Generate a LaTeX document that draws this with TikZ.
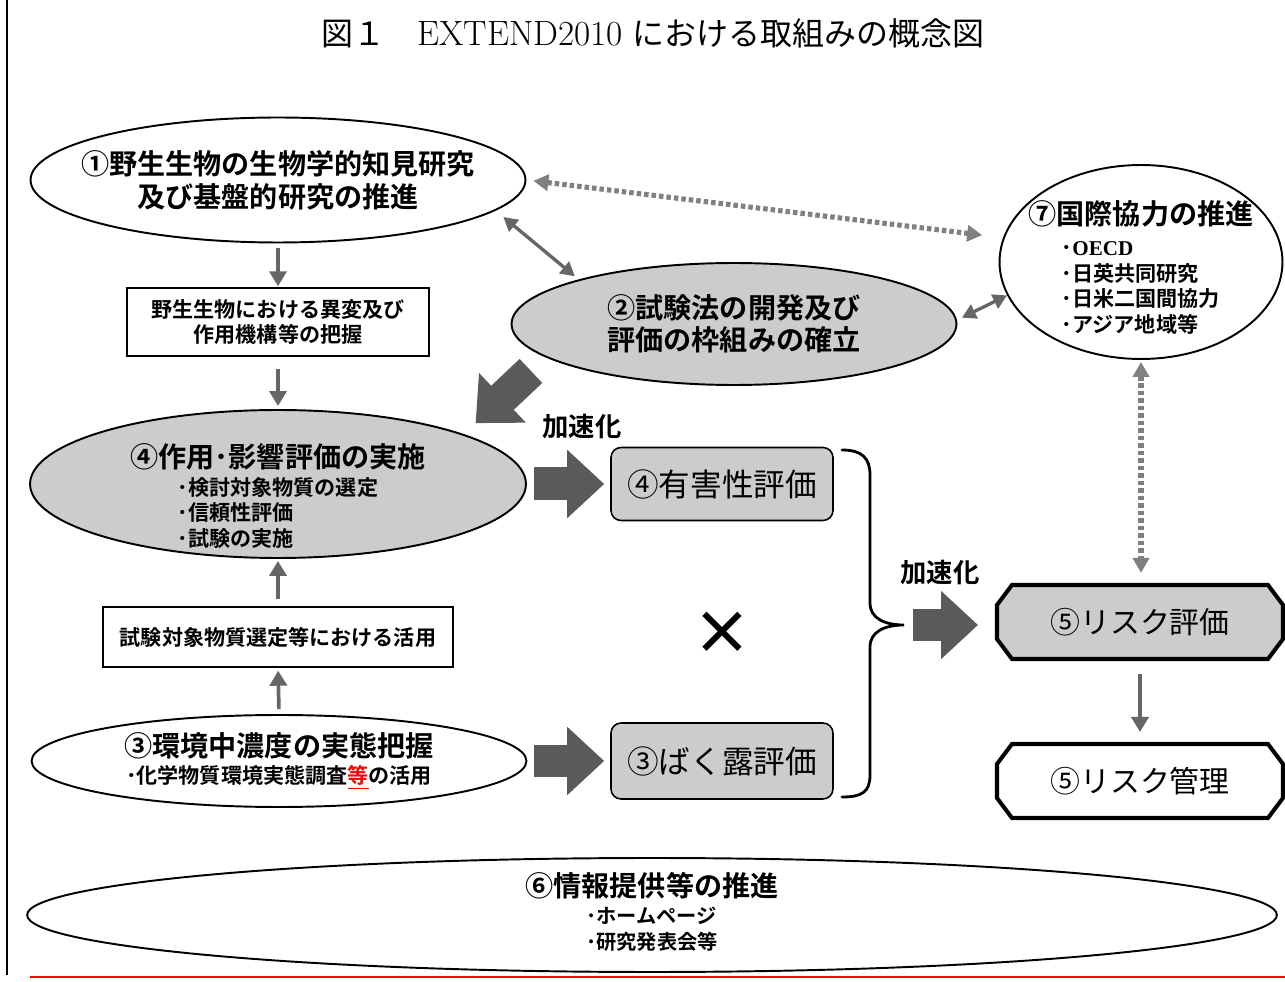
\documentclass[tikz,border=0pt]{standalone}
\usepackage{fontspec}
\newfontfamily\jp{Noto Sans CJK JP}[BoldFont = {Noto Sans CJK JP Bold}]
\newfontfamily\latin{Liberation Serif}
\usetikzlibrary{positioning, shapes.geometric, arrows.meta}

\definecolor{panelgray}{HTML}{CCCCCC}
\definecolor{arrowgray}{HTML}{666666}
\definecolor{dotgray}{HTML}{808080}
\definecolor{blockgray}{HTML}{5A5A5A}

\tikzset{
	oval/.style = {ellipse, draw, line width = 1.1pt, inner xsep = -2cm, inner ysep = -0.4cm, align = center},
	note/.style = {rectangle, draw, line width = 0.8pt, align = center, font = \jp\bfseries\fontsize{12}{14.2}\selectfont},
	evalbox/.style = {rectangle, draw, rounded corners = 0.2cm, line width = 0.9pt, fill = panelgray, minimum width = 4.44cm, font = \jp\fontsize{18}{20}\selectfont},
	risktext/.style = {rectangle, minimum width = 5.72cm, minimum height = 1.48cm, outer sep = 1.15pt, font = \jp\fontsize{17}{20}\selectfont},
	flow/.style = {arrowgray, line width = 2.1pt, -{Triangle[length = 0.3cm, width = 0.34cm]}},
	link/.style = {arrowgray, line width = 1.9pt, {Triangle[length = 0.28cm, width = 0.3cm]}-{Triangle[length = 0.28cm, width = 0.3cm]}},
	dotlink/.style = {dotgray, line width = 2.9pt, dash pattern = on 0.09cm off 0.06cm, {Triangle[length = 0.3cm, width = 0.32cm]}-{Triangle[length = 0.3cm, width = 0.32cm]}},
	block/.style = {blockgray, line width = 0.66cm, -{Triangle[length = 0.74cm, width = 1.32cm]}},
	tag/.style = {font = \jp\bfseries\fontsize{15}{18}\selectfont}
}

\begin{document}
\begin{tikzpicture}[x = 0.02cm, y = -0.02cm]

	\useasboundingbox (0, 0) rectangle (1285, 982);

	% Page frame + title

	\draw [line width = 1.2pt] (7, 0) -- (7, 975);
	\draw [red, line width = 1pt] (30, 977) -- (1285, 977);

	\node [font = \fontsize{18.2}{20}\selectfont] (title) at (653, 33) {{\jp 図１　}{\fontsize{20}{20}\selectfont EXTEND2010} {\jp における取組みの概念図}};

	% Left column

	\node [oval, fill = white, minimum width = 9.9cm, minimum height = 2.5cm, font = \jp\bfseries\fontsize{16}{18.7}\selectfont] (e1) at (278, 180) {①野生生物の生物学的知見研究\\及び基盤的研究の推進};

	\node [note, minimum width = 6.04cm, minimum height = 1.36cm] (b1) at (278, 322) {野生生物における異変及び\\作用機構等の把握};

	\node [oval, fill = panelgray, minimum width = 9.92cm, minimum height = 2.96cm, font = \jp\bfseries\fontsize{12}{14.3}\selectfont] (e4) at (278, 484) {{\fontsize{16}{18}\selectfont\rule{0pt}{1.06cm}④作用･影響評価の実施}\\[1.5pt]\begin{tabular}[t]{@{}l@{}}･検討対象物質の選定\\･信頼性評価\\･試験の実施\end{tabular}};

	\node [note, minimum width = 7cm, minimum height = 1.2cm] (b2) at (278, 637) {試験対象物質選定等における活用};

	\node [oval, fill = white, minimum width = 9.9cm, minimum height = 1.84cm, font = \jp\bfseries\fontsize{12}{15.3}\selectfont] (e3) at (279, 761) {{\fontsize{16}{18}\selectfont ③環境中濃度の実態把握}\\･化学物質環境実態調査\textcolor{red}{\underline{等}}の活用};

	% Middle + right

	\node [oval, fill = panelgray, minimum width = 8.9cm, minimum height = 2.44cm, font = \jp\bfseries\fontsize{16}{18}\selectfont] (e2) at (734, 324) {②試験法の開発及び\\評価の枠組みの確立};

	\node [oval, fill = white, minimum width = 5.66cm, minimum height = 3.88cm, font = \jp\bfseries\fontsize{12}{14.6}\selectfont] (c7) at (1141, 262) {{\fontsize{16}{18}\selectfont\rule{0pt}{0.82cm}⑦国際協力の推進}\\[3pt]\begin{tabular}[t]{@{}l@{}}･{\latin\bfseries OECD}\\･日英共同研究\\･日米二国間協力\\･アジア地域等\end{tabular}};

	\node [evalbox, minimum height = 1.46cm] (hz) at (722, 484) {④有害性評価};
	\node [evalbox, minimum height = 1.52cm] (bx) at (722, 761) {③ばく露評価};

	\node [font = \jp\bfseries\fontsize{34}{34}\selectfont] (times) at (722, 633) {×};

	\node [tag] (acc1) at (582, 427) {加速化};
	\node [tag] (acc2) at (940, 573) {加速化};

	% Risk boxes (octagons)

	\foreach \y/\shade in {622/panelgray, 781/white}
		\draw [fill = \shade, line width = 2.3pt, line join = miter] (997, \y - 17) -- (1012, \y - 37) -- (1268, \y - 37) -- (1283, \y - 17) -- (1283, \y + 17) -- (1268, \y + 37) -- (1012, \y + 37) -- (997, \y + 17) -- cycle;

	\node [risktext] (risk) at (1140, 622) {⑤リスク評価};
	\node [risktext] (mgmt) at (1140, 781) {⑤リスク管理};

	\node [oval, fill = white, minimum width = 25cm, minimum height = 2.28cm, font = \jp\bfseries\fontsize{11.5}{14.7}\selectfont] (e6) at (652, 915) {{\fontsize{16}{18}\selectfont ⑥情報提供等の推進}\\[0.5pt]\begin{tabular}[t]{@{}l@{}}･ホームページ\\･研究発表会等\end{tabular}};

	% Brace

	\coordinate (tip) at (904, 625);
	\draw [line width = 1.6pt, line cap = round] (842, 450) .. controls (862, 450) and (870, 458) .. (870, 475) -- (870, 603) .. controls (870, 618) and (884, 625) .. (tip) .. controls (884, 625) and (870, 632) .. (870, 647) -- (870, 775) .. controls (870, 792) and (862, 797) .. (842, 797);

	% Thin arrows

	\draw [flow, shorten <= 0.09cm, shorten >= 0.02cm] (e1.south) -- (b1.north);
	\draw [flow, shorten <= 0.24cm, shorten >= 0.06cm] (b1.south) -- (e4.north);
	\draw [flow, shorten <= 0.14cm, shorten >= 0.04cm] (b2.north) -- (e4.south);
	\draw [flow, shorten <= 0.1cm, shorten >= 0.06cm] (e3.north) -- (b2.south);
	\draw [flow, shorten <= 0.26cm, shorten >= 0.2cm] (risk.south) -- (mgmt.north);

	\draw [link, shorten <= 0.2cm, shorten >= 0.1cm] (e1.-8.45) -- (e2.164.3);
	\draw [link, shorten <= 0.11cm] (e2.1) -- (c7.194.2);

	\draw [dotlink, shorten <= 0.14cm, shorten >= 0.42cm] (e1.-0.5) -- (c7.170.25);
	\draw [dotlink, shorten <= 0.04cm, shorten >= 0.2cm] (c7.south) -- (c7.south |- risk.north);

	% Block arrows

	\draw [block, shorten <= 0.14cm, shorten >= 0.12cm] (e4.east) -- (e4.east -| hz.west);
	\draw [block, shorten <= 0.14cm, shorten >= 0.12cm] (e3.east) -- (e3.east -| bx.west);
	\draw [block, shorten <= 0.4cm, shorten >= 0.32cm] (e2.190) -- (e4.15.7);
	\draw [block, shorten <= 0.18cm, shorten >= 0.34cm] (tip) -- (tip -| risk.west);

\end{tikzpicture}
\end{document}
